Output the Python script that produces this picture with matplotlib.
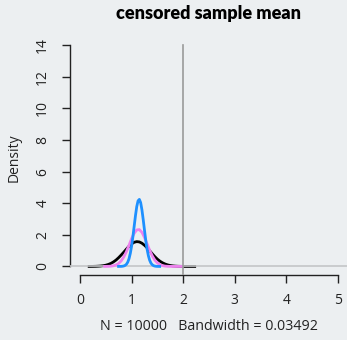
import matplotlib
matplotlib.use("Agg")
import matplotlib.pyplot as plt

title = "censored sample mean"
xlabel = "N = 10000   Bandwidth = 0.03492"
ylabel = "Density"
xticks = [0, 1, 2, 3, 4, 5]
yticks = [0, 2, 4, 6, 8, 10, 12, 14]
vline_x = 2

black_x = [0.15, 0.20, 0.25, 0.30, 0.35, 0.40, 0.45, 0.50, 0.55, 0.60, 0.65, 0.70,
           0.75, 0.80, 0.85, 0.90, 0.95, 1.00, 1.05, 1.10, 1.15, 1.20, 1.25, 1.30,
           1.35, 1.40, 1.45, 1.50, 1.55, 1.60, 1.65, 1.70, 1.75, 1.80, 1.85, 1.90,
           1.95, 2.00, 2.05, 2.10, 2.15, 2.20, 2.25]
black_y = [0.001, 0.002, 0.004, 0.008, 0.016, 0.028, 0.048, 0.080, 0.128, 0.196, 0.29, 0.41,
           0.56, 0.73, 0.91, 1.10, 1.28, 1.43, 1.53, 1.57, 1.55, 1.47, 1.34, 1.18,
           0.99, 0.80, 0.62, 0.46, 0.33, 0.23, 0.152, 0.097, 0.059, 0.035, 0.020, 0.011,
           0.006, 0.003, 0.001, 0.0, 0.0, 0.0, 0.0]

pink_x = [0.45, 0.50, 0.55, 0.60, 0.65, 0.70, 0.75, 0.80, 0.85, 0.90, 0.95, 1.00,
          1.05, 1.10, 1.15, 1.20, 1.25, 1.30, 1.35, 1.40, 1.45, 1.50, 1.55, 1.60,
          1.65, 1.70, 1.75, 1.80, 1.85, 1.90, 1.95, 2.00]
pink_y = [0.001, 0.002, 0.007, 0.018, 0.043, 0.096, 0.19, 0.36, 0.61, 0.94, 1.34, 1.76,
          2.10, 2.31, 2.33, 2.16, 1.83, 1.43, 1.02, 0.67, 0.40, 0.22, 0.11, 0.052,
          0.022, 0.008, 0.003, 0.001, 0.0, 0.0, 0.0, 0.0]

blue_x = [0.72, 0.75, 0.80, 0.825, 0.85, 0.875, 0.90, 0.925, 0.95, 0.975, 1.00, 1.025,
          1.05, 1.075, 1.10, 1.125, 1.15, 1.175, 1.20, 1.225, 1.25, 1.275, 1.30, 1.325,
          1.35, 1.375, 1.40, 1.425, 1.45, 1.475, 1.50, 1.55, 1.57]
blue_y = [0.0, 0.001, 0.005, 0.013, 0.031, 0.068, 0.14, 0.27, 0.49, 0.83, 1.29, 1.88,
          2.55, 3.22, 3.79, 4.15, 4.24, 4.04, 3.58, 2.96, 2.28, 1.63, 1.09, 0.68,
          0.39, 0.21, 0.107, 0.050, 0.022, 0.009, 0.003, 0.0, 0.0]

bg = "#ECEFF1"
plt.rcParams['font.family'] = ['Open Sans', 'DejaVu Sans']

fig = plt.figure(figsize=(3.47, 3.40), dpi=100, facecolor=bg)
ax = fig.add_axes([69.7 / 347, 64.7 / 340, 278.6 / 347, 239.1 / 340])
ax.set_facecolor(bg)
ax.set_xlim(-0.2, 5.2)
ax.set_ylim(-0.56, 14.56)

ax.plot(black_x, black_y, color="black", lw=2.0, zorder=2, solid_capstyle="butt")
ax.axhline(0, color="#c4c6c8", lw=1.2, zorder=3)
ax.plot(pink_x, pink_y, color="violet", lw=2.0, zorder=4, solid_capstyle="butt")
ax.plot(blue_x, blue_y, color="dodgerblue", lw=2.0, zorder=5, solid_capstyle="butt")
ax.plot([vline_x, vline_x], [-0.56, 14], color="#9a9a9a", lw=1.2, zorder=6)

for s in ["top", "right"]:
    ax.spines[s].set_visible(False)
ax.spines["left"].set_bounds(0, 14)
ax.spines["bottom"].set_bounds(0, 5)
for s in ["left", "bottom"]:
    ax.spines[s].set_linewidth(1.0)
    ax.spines[s].set_color("#222222")

ax.set_xticks(xticks)
ax.set_yticks(yticks)
ax.set_xticklabels([str(t) for t in xticks], fontsize=10)
ax.set_yticklabels([str(t) for t in yticks], fontsize=10, rotation=90, va="center")
ax.tick_params(axis="both", length=6, width=1.0, color="#222222", labelcolor="#222222")
ax.tick_params(axis="x", pad=7)
ax.tick_params(axis="y", pad=8)

fig.text(209 / 347, 1 - 14 / 340, title, ha="center", va="center",
         fontsize=13, fontweight="heavy", family=["Lato", "DejaVu Sans"], color="black")
fig.text(209 / 347, 1 - 326 / 340, xlabel, ha="center", va="center",
         fontsize=10.3, color="#222222")
fig.text(14 / 347, 1 - 158 / 340, ylabel, ha="center", va="center",
         fontsize=10, rotation=90, color="#222222")

fig.savefig("out.png", dpi=100, facecolor=bg)
